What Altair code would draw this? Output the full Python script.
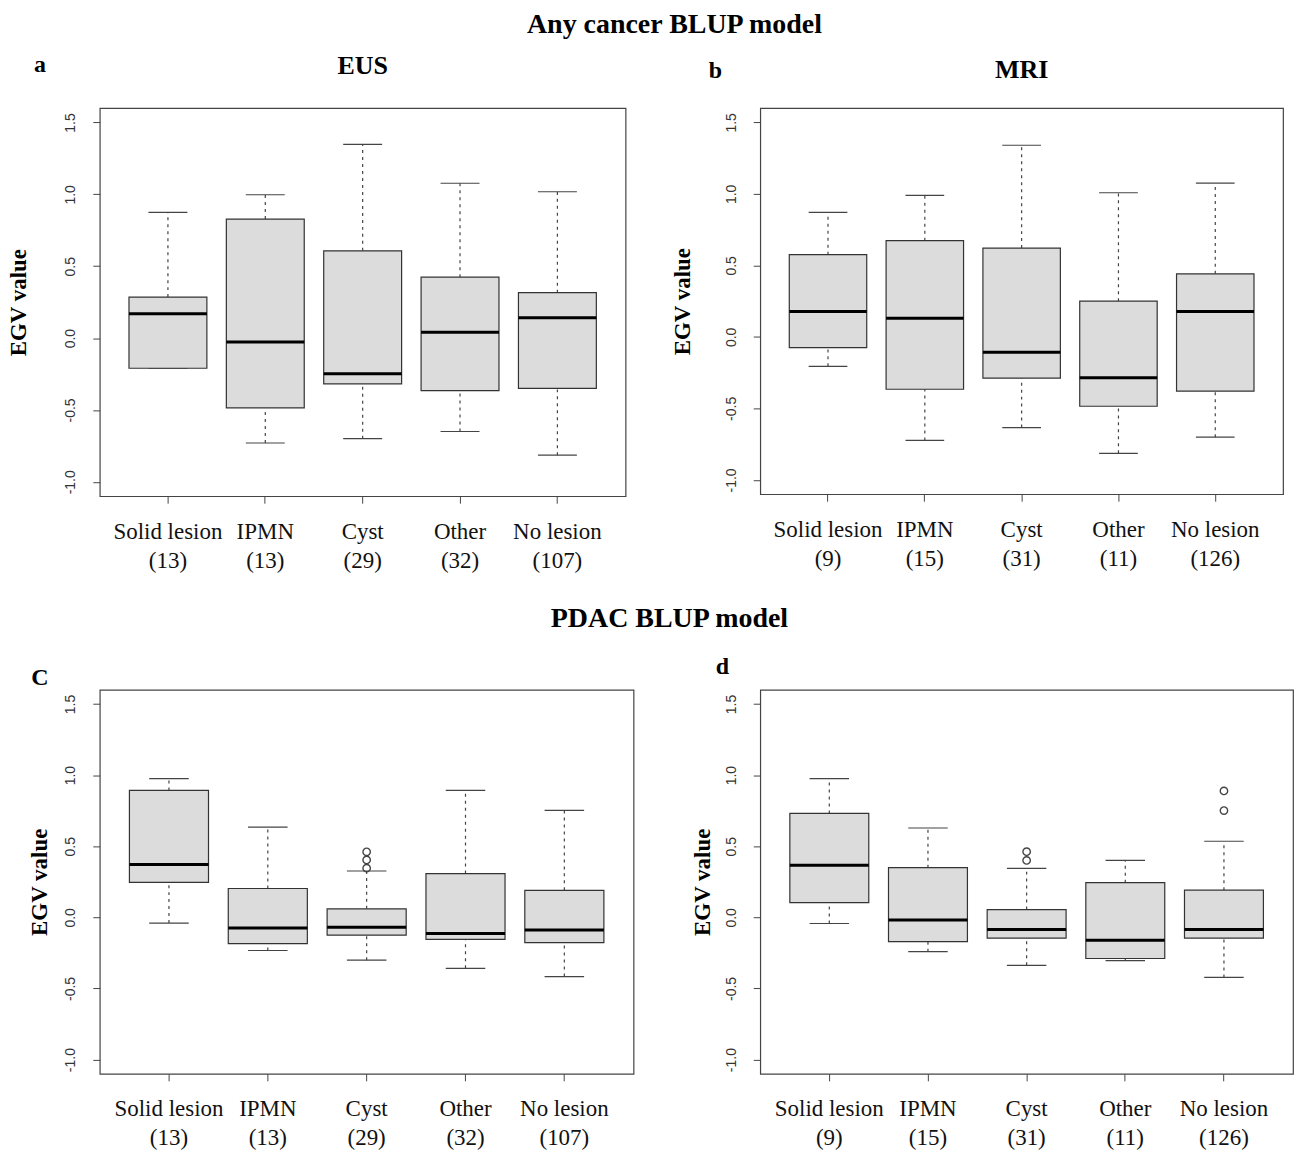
import altair as alt
import pandas as pd

categories = ["Solid lesion", "IPMN", "Cyst", "Other", "No lesion"]
counts_eus = [13, 13, 29, 32, 107]
counts_mri = [9, 15, 31, 11, 126]

section_titles = ["Any cancer BLUP model", "PDAC BLUP model"]
panel_titles = ["EUS", "MRI", "", ""]
panel_letters = ["a", "b", "C", "d"]
y_title = "EGV value"
y_ticks = [-1.0, -0.5, 0.0, 0.5, 1.0, 1.5]

# Panel a: Any cancer, EUS
a_low = [-0.21, -0.73, -0.70, -0.65, -0.815]
a_q1 = [-0.21, -0.486, -0.319, -0.365, -0.35]
a_med = [0.17, -0.028, -0.249, 0.041, 0.141]
a_q3 = [0.285, 0.828, 0.607, 0.424, 0.316]
a_high = [0.874, 0.997, 1.347, 1.077, 1.018]
a_out_cat = []
a_out_val = []

# Panel b: Any cancer, MRI
b_low = [-0.206, -0.724, -0.634, -0.814, -0.701]
b_q1 = [-0.075, -0.366, -0.289, -0.485, -0.379]
b_med = [0.178, 0.131, -0.108, -0.286, 0.178]
b_q3 = [0.575, 0.673, 0.621, 0.25, 0.441]
b_high = [0.871, 0.99, 1.34, 1.008, 1.075]
b_out_cat = []
b_out_val = []

# Panel c: PDAC, EUS
c_low = [-0.04, -0.233, -0.301, -0.358, -0.416]
c_q1 = [0.246, -0.185, -0.125, -0.155, -0.178]
c_med = [0.371, -0.075, -0.07, -0.113, -0.088]
c_q3 = [0.892, 0.203, 0.06, 0.308, 0.19]
c_high = [0.975, 0.634, 0.326, 0.892, 0.752]
c_out_cat = ["Cyst", "Cyst", "Cyst"]
c_out_val = [0.346, 0.404, 0.461]

# Panel d: PDAC, MRI
d_low = [-0.043, -0.241, -0.337, -0.304, -0.422]
d_q1 = [0.103, -0.171, -0.146, -0.289, -0.146]
d_med = [0.367, -0.018, -0.085, -0.161, -0.085]
d_q3 = [0.731, 0.349, 0.055, 0.244, 0.191]
d_high = [0.975, 0.628, 0.344, 0.40, 0.535]
d_out_cat = ["Cyst", "Cyst", "No lesion", "No lesion"]
d_out_val = [0.40, 0.462, 0.751, 0.889]

SERIF = "Liberation Serif"
SANS = "Liberation Sans"


def text_layer(txt, x, y, size, weight="bold"):
    return alt.Chart(pd.DataFrame({"t": [txt]})).mark_text(
        font=SERIF, fontSize=size, fontWeight=weight, color="black",
        align="center", baseline="middle"
    ).encode(text="t:N", x=alt.value(x), y=alt.value(y))


def panel(counts, low, q1, med, q3, high, out_cat, out_val, w, h,
          title, letter, letter_xy, title_y, ytitle_pad, section=None):
    labels = [f"{c}|({n})" for c, n in zip(categories, counts)]
    df = pd.DataFrame({"cat": labels, "low": low, "q1": q1, "med": med,
                       "q3": q3, "high": high})
    bw = w / 5.4 * 0.8
    xenc = alt.X("cat:N", sort=labels, title=None,
                 scale=alt.Scale(domain=labels, paddingInner=0.2, paddingOuter=0.3),
                 axis=alt.Axis(labelExpr="split(datum.label, '|')", labelAngle=0,
                               labelFont=SERIF, labelFontSize=23, labelColor="#111",
                               labelLineHeight=29, labelPadding=17, tickSize=7,
                               tickColor="#444", domain=False, grid=False))
    yscale = alt.Scale(domain=[-1.1, 1.6], nice=False, zero=False)
    yaxis = alt.Axis(values=y_ticks, labelExpr="replace(format(datum.value, '.1f'), '\u2212', '-')",
                     labelAngle=270, labelFont=SANS, labelFontSize=14, labelColor="#333",
                     labelPadding=15, tickSize=7, tickColor="#444", domain=False, grid=False,
                     title=y_title, titleFont=SERIF, titleFontSize=23, titleFontWeight="bold",
                     titleColor="black", titlePadding=ytitle_pad)

    base = alt.Chart(df)
    whisk_up = base.mark_rule(color="#444", strokeWidth=1.2, strokeDash=[3, 4], opacity=1).encode(
        x=xenc, y=alt.Y("q3:Q", scale=yscale, axis=yaxis), y2="high:Q")
    whisk_dn = base.mark_rule(color="#444", strokeWidth=1.2, strokeDash=[3, 4], opacity=1).encode(
        x=xenc, y=alt.Y("low:Q", scale=yscale, axis=yaxis), y2="q1:Q")
    cap_hi = base.mark_tick(color="#444", thickness=1.2, size=bw / 2, opacity=1).encode(
        x=xenc, y=alt.Y("high:Q", scale=yscale, axis=yaxis))
    cap_lo = base.mark_tick(color="#444", thickness=1.2, size=bw / 2, opacity=1).encode(
        x=xenc, y=alt.Y("low:Q", scale=yscale, axis=yaxis))
    box = base.mark_bar(fill="#dcdcdc", stroke="#333", strokeWidth=1.2, opacity=1).encode(
        x=xenc, y=alt.Y("q1:Q", scale=yscale, axis=yaxis), y2="q3:Q")
    median = base.mark_tick(color="black", thickness=3, size=bw, opacity=1).encode(
        x=xenc, y=alt.Y("med:Q", scale=yscale, axis=yaxis))
    layers = [whisk_up, whisk_dn, cap_hi, cap_lo, box, median]
    if out_cat:
        odf = pd.DataFrame({"cat": [labels[categories.index(c)] for c in out_cat],
                            "val": out_val})
        pts = alt.Chart(odf).mark_point(shape="circle", filled=False, color="#444",
                                        strokeWidth=1.4, size=55, opacity=1).encode(
            x=xenc, y=alt.Y("val:Q", scale=yscale, axis=yaxis))
        layers.append(pts)
    layers.append(text_layer(letter, letter_xy[0], letter_xy[1], 24))
    if title:
        layers.append(text_layer(title, w / 2, title_y, 26))
    if section:
        layers.append(text_layer(section[0], section[1], section[2], 28))
    return alt.layer(*layers).properties(
        width=w, height=h,
        view=alt.ViewBackground(stroke="#444", strokeWidth=1.2, fill="white"))


pa = panel(counts_eus, a_low, a_q1, a_med, a_q3, a_high, a_out_cat, a_out_val,
           527, 389, panel_titles[0], panel_letters[0], (-60, -43), -42, 33,
           section=(section_titles[0], 576, -83))
pb = panel(counts_mri, b_low, b_q1, b_med, b_q3, b_high, b_out_cat, b_out_val,
           524, 387, panel_titles[1], panel_letters[1], (-45, -37), -38, 30)
pc = panel(counts_eus, c_low, c_q1, c_med, c_q3, c_high, c_out_cat, c_out_val,
           535, 385, panel_titles[2], panel_letters[2], (-60, -12), 0, 12,
           section=(section_titles[1], 571, -71))
pd_ = panel(counts_mri, d_low, d_q1, d_med, d_q3, d_high, d_out_cat, d_out_val,
            534, 385, panel_titles[3], panel_letters[3], (-38, -23), 0, 10)

chart = alt.concat(pa, pb, pc, pd_, columns=2, bounds="flush",
                   spacing={"row": 194, "column": 127}).properties(
    padding={"left": 7, "top": 9, "right": 5, "bottom": 5}
).configure_view(stroke="#444", strokeWidth=1.2).configure(background="white")

chart.save("out.html", embed_options={"renderer": "svg", "actions": False})
